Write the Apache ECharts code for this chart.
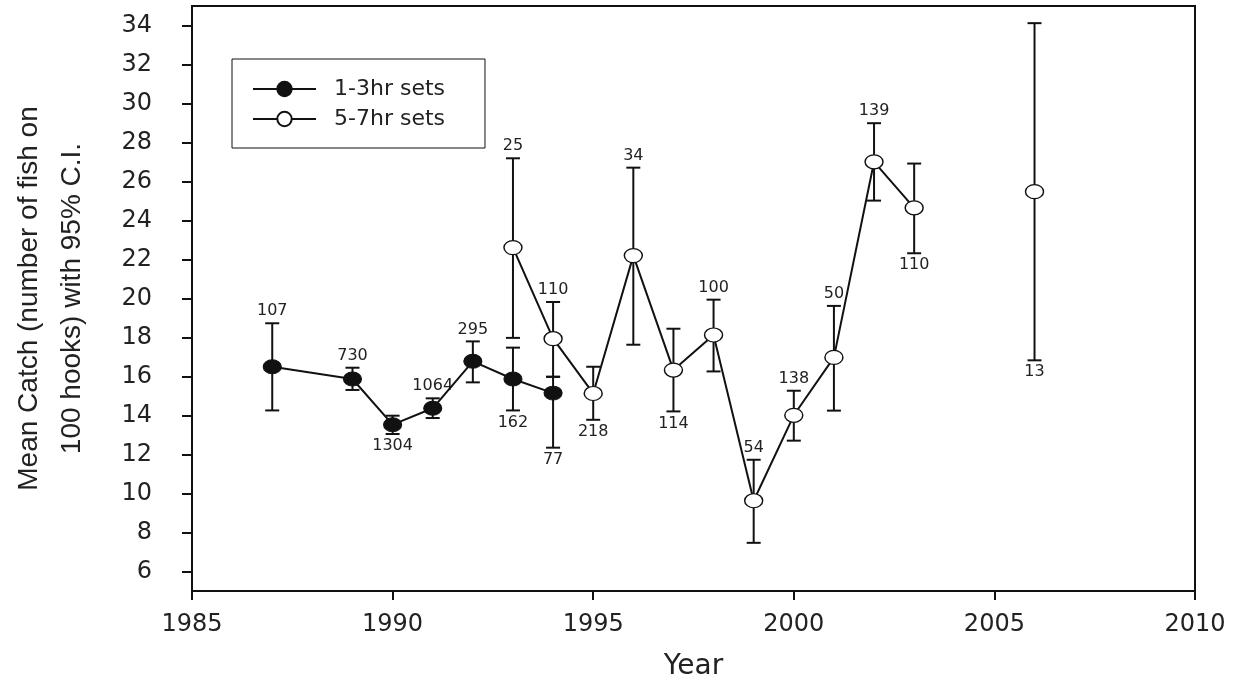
<!DOCTYPE html>
<html>
<head>
<meta charset="utf-8">
<title>Mean Catch</title>
<script src="https://cdn.jsdelivr.net/npm/echarts@6/dist/echarts.min.js"></script>
<style>
html, body { margin: 0; padding: 0; background: #fff; }
#main { width: 1235px; height: 689px; }
</style>
</head>
<body>
<div id="main"></div>
<script>
// 1-3hr sets (filled)
var shortYears = [1987, 1989, 1990, 1991, 1992, 1993, 1994];
var shortMean  = [16.50, 15.87, 13.53, 14.37, 16.78, 15.87, 15.15];
var shortLow   = [14.26, 15.31, 13.05, 13.87, 15.70, 14.26, 12.35];
var shortHigh  = [18.73, 16.45, 13.99, 14.88, 17.80, 17.48, 15.99];
var shortN     = ['107', '730', '1304', '1064', '295', '162', '77'];
var shortSide  = ['top', 'top', 'bottom', 'top', 'top', 'bottom', 'bottom'];

// 5-7hr sets (open), 2004/2005 missing
var longYears = [1993, 1994, 1995, 1996, 1997, 1998, 1999, 2000, 2001, 2002, 2003, 2004, 2005, 2006];
var longMean  = [22.61, 17.94, 15.13, 22.20, 16.33, 18.13, 9.63, 14.01, 16.98, 27.01, 24.65, null, null, 25.48];
var longLow   = [17.98, 15.98, 13.78, 17.63, 14.21, 16.26, 7.47, 12.71, 14.25, 25.02, 22.32, null, null, 16.83];
var longHigh  = [27.19, 19.82, 16.50, 26.71, 18.45, 19.94, 11.73, 15.27, 19.62, 28.99, 26.92, null, null, 34.12];
var longN     = ['25', '110', '218', '34', '114', '100', '54', '138', '50', '139', '110', '', '', '13'];
var longSide  = ['top', 'top', 'bottom', 'top', 'bottom', 'top', 'top', 'top', 'top', 'top', 'bottom', '', '', 'bottom'];

var yTicks = [6, 8, 10, 12, 14, 16, 18, 20, 22, 24, 26, 28, 30, 32, 34];

var ellipse = 'path://M0,50 A50,50 0 1,1 100,50 A50,50 0 1,1 0,50 Z';
var ink = '#111';

function pairs(xs, ys) {
    var out = [];
    for (var i = 0; i < xs.length; i++) {
        out.push([xs[i], ys[i] == null ? '-' : ys[i]]);
    }
    return out;
}

function barRows(xs, lo, hi, n, side) {
    var out = [];
    for (var i = 0; i < xs.length; i++) {
        if (lo[i] == null) continue;
        out.push([xs[i], lo[i], hi[i], n[i], side[i]]);
    }
    return out;
}

function renderBar(params, api) {
    var lo = api.coord([api.value(0), api.value(1)]);
    var hi = api.coord([api.value(0), api.value(2)]);
    var x = lo[0];
    var half = 7;
    var st = { stroke: ink, lineWidth: 2 };
    var n = api.value(3);
    var side = api.value(4);
    var ty = side === 'top' ? hi[1] - 12 : lo[1] + 12;
    return {
        type: 'group',
        children: [
            { type: 'line', shape: { x1: x, y1: lo[1], x2: x, y2: hi[1] }, style: st },
            { type: 'line', shape: { x1: x - half, y1: lo[1], x2: x + half, y2: lo[1] }, style: st },
            { type: 'line', shape: { x1: x - half, y1: hi[1], x2: x + half, y2: hi[1] }, style: st },
            { type: 'text', x: x, y: ty, style: {
                text: String(n), fill: '#222', align: 'center', verticalAlign: 'middle',
                font: '16px "DejaVu Sans"' } }
        ]
    };
}

var myChart = echarts.init(document.getElementById('main'));

var option = {
    animation: false,
    backgroundColor: '#fff',
    textStyle: { fontFamily: 'DejaVu Sans', color: '#222' },
    grid: {
        left: 182, right: 40, top: 6, bottom: 98,
        show: true, borderColor: ink, borderWidth: 2, backgroundColor: 'transparent'
    },
    legend: {
        orient: 'vertical',
        left: 232, top: 59,
        padding: [19, 40, 18, 20],
        borderColor: ink, borderWidth: 1,
        itemWidth: 63, itemHeight: 18, itemGap: 8,
        textStyle: { fontSize: 22, lineHeight: 22, color: '#222', fontFamily: 'DejaVu Sans', padding: [0, 0, 0, 13] },
        data: ['1-3hr sets', '5-7hr sets']
    },
    xAxis: {
        type: 'value',
        min: 1985, max: 2010, interval: 5,
        name: 'Year', nameLocation: 'middle', nameGap: 62,
        nameTextStyle: { fontSize: 28, color: '#222', fontFamily: 'DejaVu Sans' },
        splitLine: { show: false },
        axisLine: { onZero: false, lineStyle: { color: ink, width: 2 } },
        axisTick: { inside: false, length: 9, lineStyle: { color: ink, width: 2 } },
        axisLabel: {
            fontSize: 24, color: '#222', margin: 22, fontFamily: 'DejaVu Sans',
            formatter: function (v) { return String(v); }
        }
    },
    yAxis: {
        type: 'value',
        min: 5, max: 35,
        name: 'Mean Catch (number of fish on\n100 hooks) with 95% C.I.',
        nameLocation: 'middle', nameRotate: 90, nameGap: 98,
        nameTextStyle: { fontSize: 28, lineHeight: 43, color: '#222', fontFamily: 'Liberation Sans' },
        splitLine: { show: false },
        axisLine: { lineStyle: { color: ink, width: 2 } },
        axisTick: { inside: false, length: 10, lineStyle: { color: ink, width: 2 }, customValues: yTicks },
        axisLabel: { fontSize: 24, color: '#222', margin: 40, fontFamily: 'DejaVu Sans', customValues: yTicks }
    },
    series: [
        {
            type: 'custom',
            name: 'bars short',
            renderItem: renderBar,
            data: barRows(shortYears, shortLow, shortHigh, shortN, shortSide),
            encode: { x: 0, y: [1, 2] },
            z: 1,
            silent: true
        },
        {
            type: 'custom',
            name: 'bars long',
            renderItem: renderBar,
            data: barRows(longYears, longLow, longHigh, longN, longSide),
            encode: { x: 0, y: [1, 2] },
            z: 1,
            silent: true
        },
        {
            type: 'line',
            name: '1-3hr sets',
            data: pairs(shortYears, shortMean),
            symbol: ellipse,
            symbolSize: [18, 14],
            showAllSymbol: true,
            lineStyle: { color: ink, width: 2 },
            itemStyle: { color: ink, borderColor: ink, borderWidth: 1 },
            z: 3
        },
        {
            type: 'line',
            name: '5-7hr sets',
            data: pairs(longYears, longMean),
            connectNulls: false,
            symbol: ellipse,
            symbolSize: [18, 14],
            showAllSymbol: true,
            lineStyle: { color: ink, width: 2 },
            itemStyle: { color: '#fff', borderColor: ink, borderWidth: 1.3 },
            z: 3
        }
    ]
};

myChart.setOption(option);
</script>
</body>
</html>
